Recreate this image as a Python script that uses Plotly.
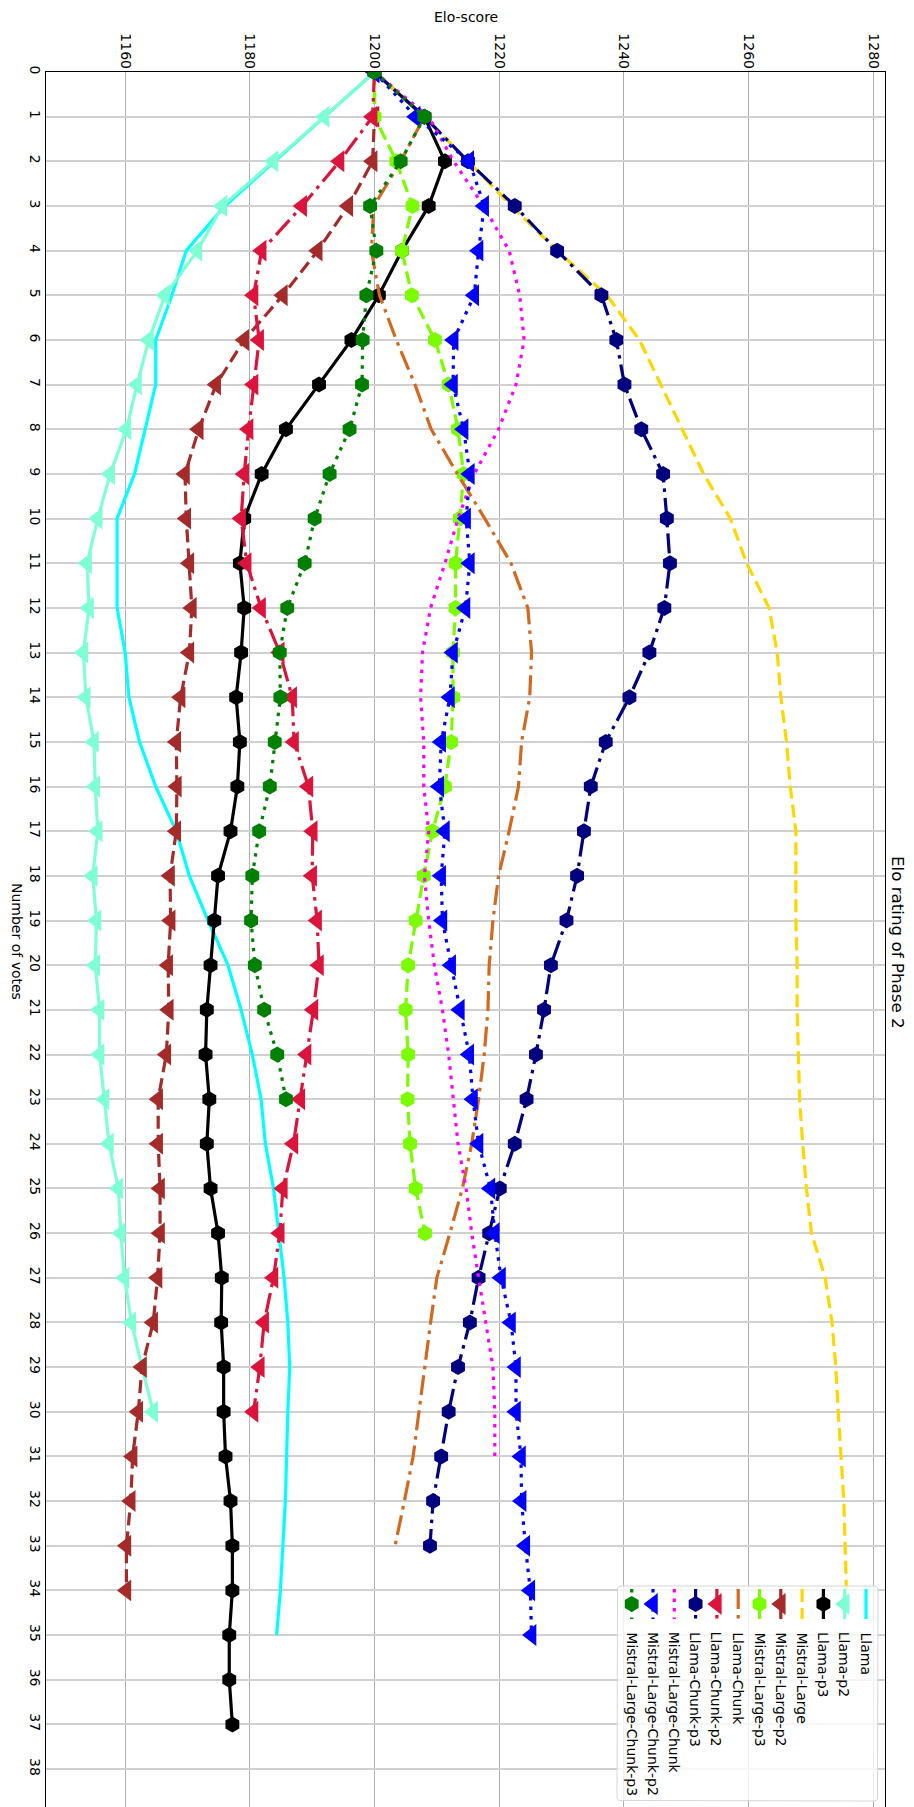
import plotly.graph_objects as go
import math

# ---------------- data (Elo score per number of votes, starting at 0 votes) ----------------
llama = [1200, 1192, 1184, 1176, 1169.8, 1167.5, 1164.9, 1164.9, 1163.2, 1161.5, 1158.7, 1158.7,
         1158.7, 1160, 1160.6, 1162.3, 1164.9, 1168.2, 1170.3, 1173.3, 1176.5, 1178.6, 1180.4,
         1181.8, 1182.5, 1183.8, 1184.7, 1185.5, 1186.1, 1186.4, 1186.1, 1185.9, 1185.7, 1185.3,
         1184.9, 1184.3]
llama_p2 = [1200, 1192.0, 1183.8, 1175.6, 1171.6, 1166.4, 1163.8, 1161.9, 1160.2, 1157.6, 1155.6,
            1153.9, 1154.2, 1153.3, 1153.7, 1155.0, 1155.2, 1155.6, 1154.8, 1155.4, 1155.2, 1155.9,
            1155.9, 1156.7, 1157.4, 1158.9, 1159.3, 1159.9, 1161.0, 1162.7, 1164.5]
llama_p3 = [1200, 1208, 1211.3, 1208.7, 1204.4, 1200.7, 1196.3, 1191.1, 1185.8, 1181.9, 1179.1,
            1178.4, 1179.1, 1178.6, 1177.8, 1178.4, 1178.0, 1176.9, 1174.9, 1174.3, 1173.7, 1173.1,
            1172.9, 1173.5, 1173.1, 1173.7, 1174.9, 1175.5, 1175.4, 1175.8, 1175.8, 1176.1, 1176.9,
            1177.2, 1177.2, 1176.7, 1176.7, 1177.2]
mistral_large = [1200, 1208, 1215, 1222, 1229.3, 1237.3, 1242.5, 1245.9, 1249.3, 1252.8, 1257.1,
                 1259.7, 1263.3, 1264.6, 1265.2, 1266.1, 1266.7, 1267.6, 1267.6, 1267.6, 1267.8,
                 1267.8, 1268.0, 1268.2, 1268.7, 1269.3, 1270.1, 1272.3, 1273.4, 1274.0, 1274.4,
                 1274.9, 1275.3, 1275.5, 1275.7]
mistral_large_p2 = [1200, 1200, 1199.7, 1195.8, 1190.9, 1185.3, 1179.1, 1174.6, 1171.8, 1169.6,
                    1169.8, 1170.3, 1170.7, 1170.3, 1168.9, 1168.2, 1168.3, 1168.2, 1167.2, 1167.3,
                    1166.9, 1167.0, 1166.6, 1165.3, 1165.3, 1165.6, 1165.6, 1165.2, 1164.5, 1162.7,
                    1162.1, 1161.2, 1160.9, 1160.2, 1160.2]
mistral_large_p3 = [1200, 1200, 1203.5, 1206.1, 1204.4, 1206.0, 1209.7, 1211.9, 1213.4, 1214.3,
                    1213.7, 1213.0, 1213.0, 1212.6, 1212.6, 1212.3, 1211.3, 1209.3, 1207.9, 1206.6,
                    1205.4, 1205.0, 1205.4, 1205.3, 1205.7, 1206.6, 1208.1]
llama_chunk = [1200, 1208, 1204.2, 1199.9, 1199.5, 1200.8, 1203.5, 1206.5, 1209.1, 1213.3, 1217.7,
               1221.9, 1224.6, 1225.2, 1224.9, 1223.6, 1223.1, 1221.6, 1219.9, 1219.0, 1218.4,
               1218.2, 1217.6, 1216.7, 1215.6, 1214.1, 1212.1, 1210.0, 1209.0, 1208.1, 1207.2,
               1206.2, 1204.8, 1203.3]
llama_chunk_p2 = [1200, 1199.7, 1194.4, 1188.4, 1181.9, 1180.6, 1181.5, 1180.6, 1179.8, 1179.1,
                  1178.6, 1179.5, 1181.8, 1184.8, 1186.8, 1187.1, 1189.4, 1190.1, 1190.0, 1190.8,
                  1191.1, 1190.2, 1189.1, 1188.1, 1187.0, 1185.3, 1184.8, 1183.8, 1182.3, 1181.6,
                  1180.6]
llama_chunk_p3 = [1200, 1208, 1215, 1222.5, 1229.3, 1236.4, 1238.8, 1240.1, 1242.8, 1246.3, 1246.9,
                  1247.4, 1246.5, 1244.1, 1240.9, 1237.1, 1234.7, 1233.6, 1232.5, 1230.8, 1228.3,
                  1227.2, 1225.9, 1224.4, 1222.5, 1220.1, 1218.4, 1216.7, 1215.3, 1213.4, 1211.9,
                  1210.7, 1209.4, 1208.9]
mistral_large_chunk = [1200, 1208.7, 1212.7, 1217.5, 1221.6, 1223.3, 1224.0, 1222.7, 1219.9, 1216.0,
                       1213.4, 1211.3, 1209.0, 1207.7, 1207.4, 1207.9, 1207.9, 1208.7, 1208.0,
                       1208.7, 1209.6, 1210.9, 1211.9, 1212.7, 1213.4, 1214.7, 1215.6, 1216.7,
                       1217.9, 1219.0, 1219.3, 1219.3]
mistral_large_chunk_p2 = [1200, 1206.6, 1215.2, 1217.6, 1216.7, 1216.0, 1212.7, 1212.6, 1214.3,
                          1215.3, 1214.7, 1215.3, 1214.6, 1212.6, 1212.1, 1210.7, 1210.4, 1211.3,
                          1210.7, 1210.9, 1212.3, 1213.7, 1215.2, 1215.8, 1216.7, 1218.6, 1219.3,
                          1220.3, 1221.9, 1222.7, 1222.7, 1223.5, 1223.6, 1224.2, 1225.0, 1225.2]
mistral_large_chunk_p3 = [1200, 1208, 1204.2, 1199.3, 1200.3, 1198.7, 1198.1, 1198.0, 1196.0,
                          1192.8, 1190.4, 1188.8, 1186.0, 1184.8, 1184.9, 1184.0, 1183.2, 1181.5,
                          1180.4, 1180.2, 1180.8, 1182.3, 1184.4, 1185.8]

series_names = ["Llama", "Llama-p2", "Llama-p3", "Mistral-Large", "Mistral-Large-p2",
                "Mistral-Large-p3", "Llama-Chunk", "Llama-Chunk-p2", "Llama-Chunk-p3",
                "Mistral-Large-Chunk", "Mistral-Large-Chunk-p2", "Mistral-Large-Chunk-p3"]
series_values = [llama, llama_p2, llama_p3, mistral_large, mistral_large_p2, mistral_large_p3,
                 llama_chunk, llama_chunk_p2, llama_chunk_p3, mistral_large_chunk,
                 mistral_large_chunk_p2, mistral_large_chunk_p3]
elo_ticks = [1160, 1180, 1200, 1220, 1240, 1260, 1280]
vote_ticks = list(range(0, 39))

# ---------------- styles ----------------
colors = ["#00FFFF", "#7FFFD4", "#000000", "#FFD700", "#A52A2A", "#7CFC00",
          "#D2691E", "#DC143C", "#000080", "#FF00FF", "#0000FF", "#008000"]
SOLID, DASH, DOT, DASHDOT = "solid", "13px,6px", "3.5px,6px", "20px,6px,3.5px,6px"
dashes = [SOLID, SOLID, SOLID, DASH, DASH, DASH, DASHDOT, DASHDOT, DASHDOT, DOT, DOT, DOT]
TRI, HEX = "triangle-left", "hexagon"
symbols = [None, TRI, HEX, None, TRI, HEX, None, TRI, HEX, None, TRI, HEX]
msize = {TRI: 19, HEX: 16}
LW = 3.2
FONT = "DejaVu Sans"

# page has an 8px body margin: figure coords = page coords - 8
OFF = 8
W, H = 914, 1807
PL, PR, PT, PB = 46, 885, 72, 1807          # plot area in page pixels
ML, MT = PL - OFF, PT - OFF
MR, MB = W - (PR - OFF), H - (PB - OFF)


def paper_x(px):
    return (px - PL) / (PR - PL)


def paper_y(py):
    return 1 - (py - PT) / (PB - PT)


fig = go.Figure()

for name, vals, c, d, s in zip(series_names, series_values, colors, dashes, symbols):
    fig.add_trace(go.Scatter(
        x=vals, y=list(range(len(vals))), name=name,
        mode="lines+markers" if s else "lines",
        line=dict(color=c, width=LW, dash=d),
        marker=dict(symbol=s or "circle", size=msize.get(s, 1), color=c, line=dict(width=0)),
        showlegend=False, hoverinfo="skip",
    ))

# ---------------- manual rotated legend (page-pixel coordinates on overlay axes) ----------------
bx0, bx1, by0, by1, rad = 617, 878, 1586, 1801, 4
px, py = [], []
corners = [(bx1 - rad, by0 + rad, -90, 0), (bx1 - rad, by1 - rad, 0, 90),
           (bx0 + rad, by1 - rad, 90, 180), (bx0 + rad, by0 + rad, 180, 270)]
for cx, cy, a0, a1 in corners:
    for k in range(7):
        a = math.radians(a0 + (a1 - a0) * k / 6)
        px.append(cx + rad * math.cos(a))
        py.append(cy + rad * math.sin(a))
px.append(px[0]); py.append(py[0])
fig.add_trace(go.Scatter(x=px, y=py, xaxis="x2", yaxis="y2", mode="lines", fill="toself",
                         fillcolor="rgba(255,255,255,0.8)", line=dict(color="#d6d6d6", width=1),
                         showlegend=False, hoverinfo="skip"))

annotations = []
for i, (name, c, d, s) in enumerate(zip(series_names, colors, dashes, symbols)):
    cx = 866 - 21.3 * i
    fig.add_trace(go.Scatter(x=[cx, cx], y=[1589, 1619], xaxis="x2", yaxis="y2", mode="lines",
                             line=dict(color=c, width=LW, dash=d), showlegend=False,
                             hoverinfo="skip"))
    if s:
        fig.add_trace(go.Scatter(x=[cx], y=[1604], xaxis="x2", yaxis="y2", mode="markers",
                                 marker=dict(symbol=s, size=msize[s], color=c, line=dict(width=0)),
                                 showlegend=False, hoverinfo="skip"))
    annotations.append(dict(x=cx, y=1630, xref="x2", yref="y2", text=name, showarrow=False,
                            textangle=90, xanchor="center", yanchor="top",
                            font=dict(family=FONT, size=14, color="black")))

# axis titles and chart title (rotated like the reference)
annotations.append(dict(x=paper_x(466), y=paper_y(17), xref="paper", yref="paper",
                        text="Elo-score", showarrow=False, xanchor="center", yanchor="middle",
                        font=dict(family=FONT, size=14, color="black")))
annotations.append(dict(x=paper_x(17), y=paper_y(941), xref="paper", yref="paper",
                        text="Number of votes", showarrow=False, textangle=90,
                        xanchor="center", yanchor="middle",
                        font=dict(family=FONT, size=14, color="black")))
annotations.append(dict(x=paper_x(898), y=paper_y(942), xref="paper", yref="paper",
                        text="Elo rating of Phase 2", showarrow=False, textangle=90,
                        xanchor="center", yanchor="middle",
                        font=dict(family=FONT, size=16.7, color="black")))

fig.update_layout(
    width=W, height=H, margin=dict(l=ML, r=MR, t=MT, b=MB, pad=0, autoexpand=False),
    paper_bgcolor="white", plot_bgcolor="white", showlegend=False,
    annotations=annotations,
    xaxis=dict(range=[1147.3, 1281.9], side="top", tickmode="array", tickvals=elo_ticks,
               ticktext=[str(v) for v in elo_ticks], tickangle=90, ticks="", automargin=False,
               ticklabelstandoff=-3,
               tickfont=dict(family=FONT, size=14, color="black"),
               showgrid=True, gridcolor="#b0b0b0", gridwidth=1, zeroline=False,
               showline=True, linecolor="black", linewidth=1.2, fixedrange=True),
    yaxis=dict(range=[38.85, 0], tickmode="array", tickvals=vote_ticks,
               ticktext=[str(v) for v in vote_ticks], tickangle=90, ticks="", automargin=False,
               ticklabelstandoff=-2,
               tickfont=dict(family=FONT, size=14, color="black"),
               showgrid=True, gridcolor="#d0d0d0", gridwidth=2, zeroline=False,
               showline=True, linecolor="black", linewidth=1.2, mirror=True, fixedrange=True),
    xaxis2=dict(overlaying="x", anchor="y2", range=[PL, PR], visible=False, fixedrange=True,
                automargin=False),
    yaxis2=dict(overlaying="y", anchor="x2", range=[PB, PT], visible=False, fixedrange=True,
                automargin=False),
)

fig.write_html("out.html")
